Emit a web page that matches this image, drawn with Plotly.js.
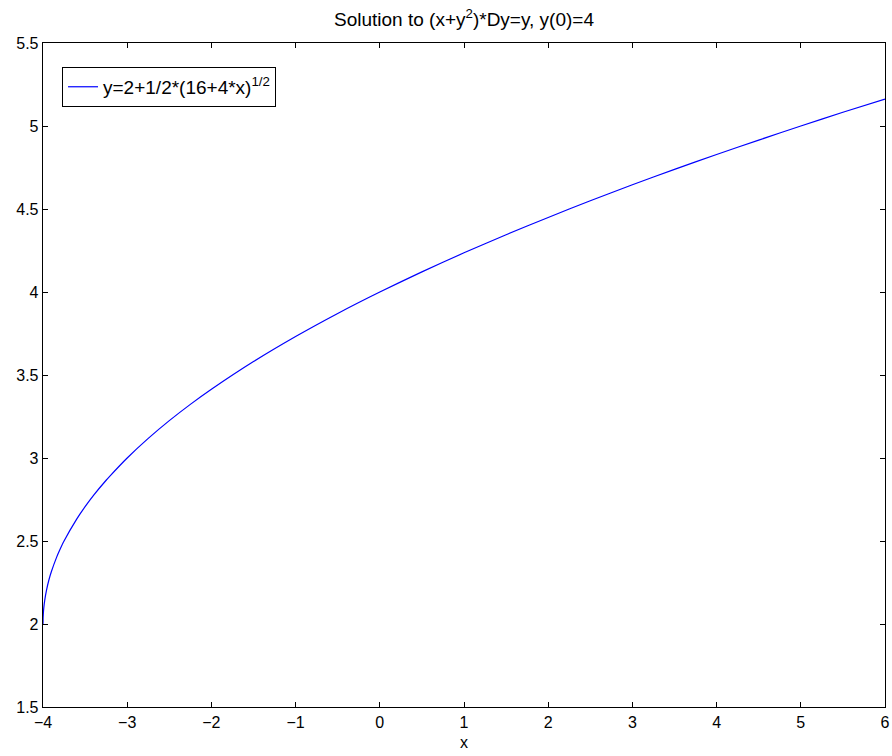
<!DOCTYPE html>
<html>
<head>
<meta charset="utf-8">
<script src="https://cdn.plot.ly/plotly-3.0.1.min.js"></script>
<style>html,body{margin:0;padding:0;background:#fff;}#chart{width:892px;height:756px;}</style>
</head>
<body>
<div id="chart"></div>
<script>
// Values
const xVals = [-4, -3.999, -3.998, -3.995, -3.99, -3.98, -3.96, -3.93, -3.9, -3.84, -3.8, -3.75, -3.6, -3.5, -3.4, -3.25, -3.2, -3, -2.75, -2.5, -2.25, -2, -1.5, -1, -0.5, 0, 0.5, 1, 1.5, 2, 2.5, 3, 3.5, 4, 4.5, 5, 5.5, 6];
const yVals = [2, 2.032, 2.045, 2.071, 2.1, 2.141, 2.2, 2.265, 2.316, 2.4, 2.447, 2.5, 2.632, 2.707, 2.775, 2.866, 2.894, 3, 3.118, 3.225, 3.323, 3.414, 3.581, 3.732, 3.871, 4, 4.121, 4.236, 4.345, 4.449, 4.550, 4.646, 4.739, 4.828, 4.915, 5, 5.083, 5.162];
const xTicks = [-4, -3, -2, -1, 0, 1, 2, 3, 4, 5, 6];
const xTickText = ['\u22124', '\u22123', '\u22122', '\u22121', '0', '1', '2', '3', '4', '5', '6'];
const yTicks = [1.5, 2, 2.5, 3, 3.5, 4, 4.5, 5, 5.5];
const yTickText = ['1.5', '2', '2.5', '3', '3.5', '4', '4.5', '5', '5.5'];
const seriesName = 'y=2+1/2*(16+4*x)<sup>1/2</sup>';
const titleText = 'Solution to (x+y<sup>2</sup>)*Dy=y, y(0)=4';

const fam = 'Liberation Sans, Arial, sans-serif';

Plotly.newPlot('chart', [{
  x: xVals, y: yVals, type: 'scatter', mode: 'lines',
  line: {color: '#0000ff', width: 1.2, shape: 'spline', smoothing: 0.6},
  name: seriesName
}], {
  width: 892, height: 756,
  margin: {l: 43, r: 7, t: 43, b: 49},
  paper_bgcolor: '#fff', plot_bgcolor: '#fff',
  font: {family: fam, size: 16, color: '#000'},
  showlegend: true,
  title: {text: titleText, font: {family: fam, size: 19, color: '#000'}, x: 0.5, xanchor: 'center', xref: 'paper', y: 1 - 19/756, yref: 'container', yanchor: 'middle'},
  xaxis: {
    range: [-4, 6], tickvals: xTicks, ticktext: xTickText,
    ticks: 'inside', ticklen: 5, tickcolor: '#000', mirror: 'ticks',
    showline: true, linecolor: '#000', linewidth: 1.3, showgrid: false, zeroline: false,
    tickfont: {family: fam, size: 16, color: '#000'},
    title: {text: 'x', font: {family: fam, size: 16, color: '#000'}, standoff: 7}
  },
  yaxis: {
    range: [1.5, 5.5], tickvals: yTicks, ticktext: yTickText,
    ticks: 'inside', ticklen: 5, tickcolor: '#000', mirror: 'ticks',
    showline: true, linecolor: '#000', linewidth: 1.3, showgrid: false, zeroline: false,
    tickfont: {family: fam, size: 16, color: '#000'}
  },
  legend: {
    x: 0.0226, y: 0.964, xanchor: 'left', yanchor: 'top',
    bgcolor: '#fff', bordercolor: '#000', borderwidth: 1,
    font: {family: fam, size: 19, color: '#000'}
  }
}, {displayModeBar: false, staticPlot: true});
</script>
</body>
</html>
